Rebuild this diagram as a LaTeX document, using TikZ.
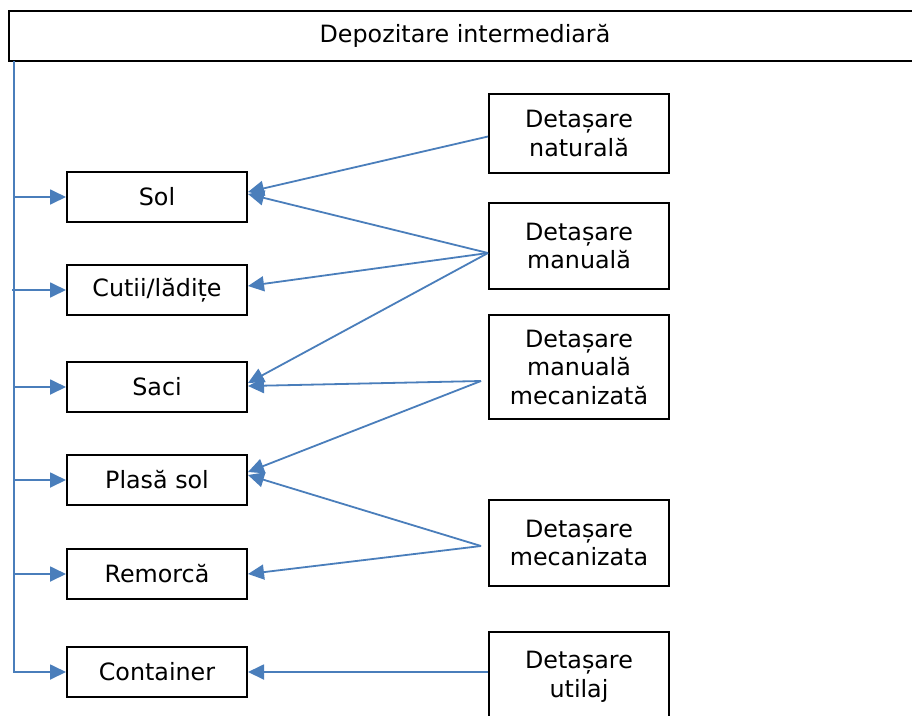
\documentclass[tikz,border=0pt]{standalone}
\usepackage{fontspec}
\setmainfont{DejaVu Sans}
\usetikzlibrary{arrows.meta,calc}
\definecolor{linkblue}{HTML}{4A7EBB}
\begin{document}
\begin{tikzpicture}[x=1pt,y=-1pt,
  every node/.style={font=\fontsize{23.8}{28.5}\selectfont},
  header/.style={draw=black,line width=2.2pt,minimum width=912pt,minimum height=50pt,inner sep=0pt},
  target/.style={draw=black,line width=2pt,minimum width=180pt,minimum height=50pt,inner sep=0pt},
  method/.style={draw=black,line width=2pt,minimum width=180pt,align=center,inner sep=0pt},
  link/.style={draw=linkblue,line width=1.8pt,-{Triangle[length=16pt,width=15pt]}},
  trunkline/.style={draw=linkblue,line width=1.8pt}]
\useasboundingbox (0,0) rectangle (912,715);
\clip (0,0) rectangle (912,715);
\fill[white] (0,0) rectangle (912,715);

% header spanning the page
\node[header] (top) at (465,36) {Depozitare intermediară};
\coordinate (trunk) at (14,61);

% storage places
\node[target] (sol)  at (157,197) {Sol};
\node[target] (cut)  at (157,290) {Cutii/lădițe};
\node[target] (saci) at (157,387) {Saci};
\node[target] (plas) at (157,480) {Plasă sol};
\node[target] (rem)  at (157,574) {Remorcă};
\node[target] (cont) at (157,672) {Container};

% detaching methods
\node[method,minimum height=79pt]  (nat)  at (579,133.5) {Detașare\\naturală};
\node[method,minimum height=86pt]  (man)  at (579,246)   {Detașare\\manuală};
\node[method,minimum height=104pt] (mmec) at (579,367)   {Detașare\\manuală\\mecanizată};
\node[method,minimum height=86pt]  (mec)  at (579,543)   {Detașare\\mecanizata};
\node[method,minimum height=89pt,anchor=north] (util) at (579,631) {};
\node[align=center,anchor=north] (utiltxt) at (579,648) {Detașare\\utilaj};

% feed line from the header to each storage place
\draw[link] (trunk) |- (cont.west);
\draw[link] (trunk |- sol.west) -- (sol.west);
\draw[link] ([xshift=-2pt]trunk |- cut.west) -- (cut.west);
\draw[link] (trunk |- saci.west) -- (saci.west);
\draw[link] (trunk |- plas.west) -- (plas.west);
\draw[link] (trunk |- rem.west) -- (rem.west);

% methods to storage places
\coordinate (natp)  at ([yshift=-3pt]nat.west);
\coordinate (manp)  at ([yshift=-7pt]man.west);
\coordinate (mmecp) at ([xshift=-7pt,yshift=-14pt]mmec.west);
\coordinate (mecp)  at ([xshift=-7pt,yshift=-3pt]mec.west);
\coordinate (utilp) at (util.west |- cont.east);

\draw[link] (natp) -- ([yshift=5pt]sol.east);
\draw[link] (manp) -- ([yshift=3pt]sol.east);
\draw[link] (manp) -- ([yshift=4pt]cut.east);
\draw[link] (manp) -- ([yshift=4pt]saci.east);
\draw[link] (mmecp) -- ([yshift=1pt]saci.east);
\draw[link] (mmecp) -- ([yshift=8pt]plas.east);
\draw[link] (mecp) -- ([yshift=5pt]plas.east);
\draw[link] (mecp) -- (rem.east);
\draw[link] (utilp) -- (cont.east);
\end{tikzpicture}
\end{document}
